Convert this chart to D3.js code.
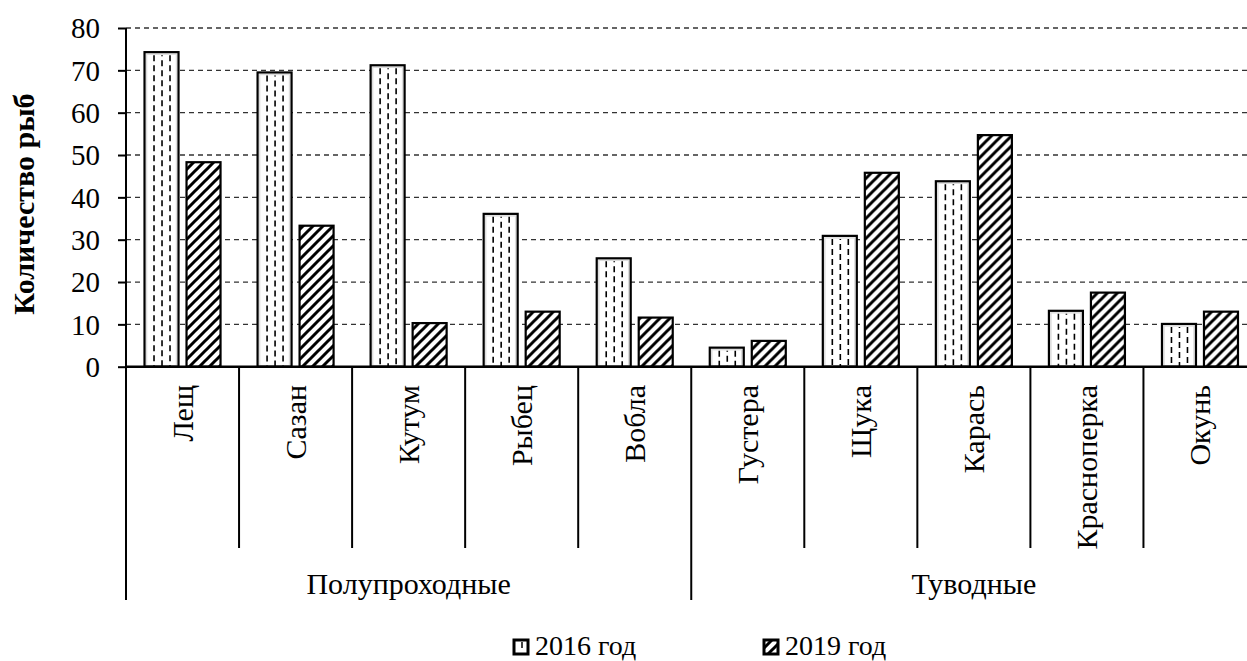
<!DOCTYPE html>
<html><head><meta charset="utf-8">
<script src="https://cdn.jsdelivr.net/npm/d3@7"></script>
<style>
html,body{margin:0;padding:0;background:#fff;overflow:hidden}
svg text{font-family:'Liberation Serif','Times New Roman','DejaVu Serif',serif !important;fill:#000}
</style></head>
<body><svg id="c" width="1247" height="661"></svg>
<script>
const categories = ["Лещ","Сазан","Кутум","Рыбец","Вобла","Густера","Щука","Карась","Красноперка","Окунь"];
const groups = ["Полупроходные","Туводные"];
const groupSizes = [5,5];
const seriesNames = ["2016 год","2019 год"];
const values2016 = [74.3,69.5,71.2,36.1,25.6,4.5,30.9,43.8,13.2,10.1];
const values2019 = [48.3,33.3,10.3,13.0,11.6,6.1,45.8,54.7,17.5,13.0];
const yTicks = [0,10,20,30,40,50,60,70,80];
const yTitle = "Количество рыб";

const FONT = "'Liberation Serif','Times New Roman','DejaVu Serif',serif";
const svg = d3.select("#c");
const left = 126, right = 1256.5, y0 = 366.7, yTop = 28;
const x = d3.scaleBand().domain(categories).range([left,right]).padding(0);
const x1 = d3.scaleBand().domain(seriesNames).range([0,x.bandwidth()]).paddingInner(0.143).paddingOuter(0.417);
const y = d3.scaleLinear().domain([0,80]).range([y0,yTop]);

const defs = svg.append("defs");
const p2 = defs.append("pattern").attr("id","p2019").attr("patternUnits","userSpaceOnUse")
  .attr("width",10).attr("height",10);
p2.append("rect").attr("width",10).attr("height",10).attr("fill","#fff");
p2.append("path").attr("d","M-2,2 L2,-2 M0,10 L10,0 M8,12 L12,8")
  .attr("stroke","#000").attr("stroke-width",3);

// gridlines
svg.append("g").selectAll("line").data(yTicks.filter(d=>d>0)).join("line")
  .attr("x1",left).attr("x2",1247).attr("y1",d=>y(d)).attr("y2",d=>y(d))
  .attr("stroke","#333").attr("stroke-width",1.3).attr("stroke-dasharray","5,4");

// y axis
const yAxis = d3.axisLeft(y).tickValues(yTicks).tickSize(8).tickPadding(18).tickFormat(d3.format("d"));
const ga = svg.append("g").attr("transform",`translate(${left},0)`).call(yAxis)
  .attr("font-family",FONT).attr("font-size",29);
ga.select(".domain").remove();
ga.selectAll(".tick line").attr("stroke","#000").attr("stroke-width",2);
ga.selectAll(".tick text").attr("font-family",FONT).attr("font-size",29).attr("fill","#000").attr("dy","0.34em");

svg.append("line").attr("x1",left).attr("x2",left).attr("y1",yTop).attr("y2",600)
  .attr("stroke","#000").attr("stroke-width",2);

// bars
const data = categories.map((c,i)=>({c, v:[values2016[i],values2019[i]]}));
const cg = svg.append("g").selectAll("g").data(data).join("g")
  .attr("transform",d=>`translate(${x(d.c)},0)`);
const bars = cg.selectAll("g").data(d=>d.v.map((v,k)=>({k,v}))).join("g");
bars.append("rect")
  .attr("x",d=>x1(seriesNames[d.k])+1).attr("width",x1.bandwidth()-2)
  .attr("y",d=>y(d.v)).attr("height",d=>y0-y(d.v))
  .attr("fill",d=>d.k===0?"#fff":"url(#p2019)");
bars.filter(d=>d.k===0).append("rect")
  .attr("x",d=>x1(seriesNames[d.k])+3).attr("width",x1.bandwidth()-6)
  .attr("y",d=>y(d.v)+2).attr("height",d=>Math.max(0,y0-y(d.v)-3))
  .attr("fill","none").attr("stroke","#ddd").attr("stroke-width",1.5);
bars.filter(d=>d.k===0).each(function(d){
  const g = d3.select(this);
  const bx = x1(seriesNames[d.k]);
  [10.5,18.5,26.5].forEach((off,j)=>{
    g.append("line").attr("x1",bx+off).attr("x2",bx+off)
      .attr("y1",y(d.v)+3).attr("y2",y0)
      .attr("stroke","#000").attr("stroke-width",1.6)
      .attr("stroke-dasharray","6,4").attr("stroke-dashoffset", j===1?5:0);
  });
});
bars.append("rect")
  .attr("x",d=>x1(seriesNames[d.k])+1).attr("width",x1.bandwidth()-2)
  .attr("y",d=>y(d.v)).attr("height",d=>y0-y(d.v))
  .attr("fill","none").attr("stroke","#000").attr("stroke-width",2.2);

// baseline
svg.append("line").attr("x1",left).attr("x2",1247).attr("y1",y0).attr("y2",y0)
  .attr("stroke","#000").attr("stroke-width",2.5);

// separators
let idx = 0; const groupStarts = [];
groupSizes.forEach(s=>{groupStarts.push(idx); idx+=s;});
categories.forEach((c,i)=>{
  if(i===0) return;
  const isGroup = groupStarts.includes(i);
  svg.append("line").attr("x1",x(c)).attr("x2",x(c)).attr("y1",y0).attr("y2",isGroup?600:548)
    .attr("stroke","#000").attr("stroke-width",2);
});
svg.append("line").attr("x1",right).attr("x2",right).attr("y1",y0).attr("y2",600)
  .attr("stroke","#000").attr("stroke-width",2);

// category labels
svg.append("g").selectAll("text").data(categories).join("text")
  .attr("transform",d=>`translate(${x(d)+x.bandwidth()/2+10.5},385) rotate(-90)`)
  .attr("text-anchor","end").attr("font-family",FONT).attr("font-size",30).text(d=>d);

// group labels
groups.forEach((g,gi)=>{
  const a = x(categories[groupStarts[gi]]);
  const b = x(categories[groupStarts[gi]+groupSizes[gi]-1]) + x.bandwidth();
  svg.append("text").attr("x",(a+b)/2).attr("y",594).attr("text-anchor","middle")
    .attr("font-family",FONT).attr("font-size",30).text(g);
});

// y title
svg.append("text").attr("transform","translate(34,204) rotate(-90)").attr("text-anchor","middle")
  .attr("font-family",FONT).attr("font-size",30).attr("font-weight","bold").text(yTitle);

// legend
const legX = [513,763];
seriesNames.forEach((s,k)=>{
  const g = svg.append("g").attr("transform",`translate(${legX[k]},639)`);
  g.append("rect").attr("x",1).attr("y",1).attr("width",14).attr("height",14)
    .attr("fill",k===0?"#fff":"url(#p2019)").attr("stroke","#000").attr("stroke-width",3);
  if(k===0) g.append("line").attr("x1",9).attr("x2",9).attr("y1",3).attr("y2",9).attr("stroke","#000").attr("stroke-width",1.5);
  g.append("text").attr("x",22).attr("y",16).attr("font-family",FONT).attr("font-size",28).text(s);
});
</script></body></html>
